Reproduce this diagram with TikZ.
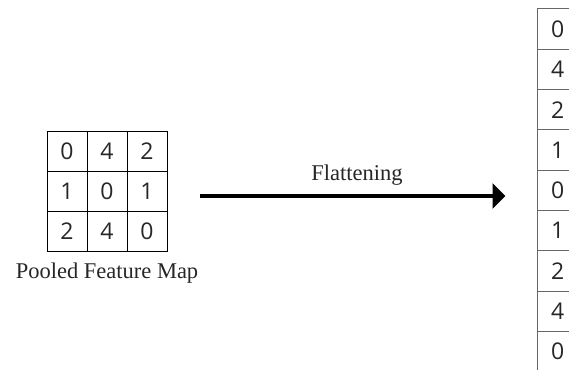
\documentclass[tikz,border=0pt]{standalone}
\usepackage{fontspec}
\setmainfont{Liberation Serif}
\newfontfamily\digitfont{Open Sans}
\usetikzlibrary{arrows.meta}
\begin{document}
\begin{tikzpicture}[x=1pt,y=-1pt,
  cell/.style={draw=black,line width=0.9pt,minimum width=40pt,minimum height=40pt,
    inner sep=0pt,outer sep=0pt,font=\digitfont\fontsize{23}{23}\selectfont,text=black!85},
  vcell/.style={draw=black!60,line width=1pt,minimum width=40pt,minimum height=40.3pt,
    inner sep=0pt,outer sep=0pt,font=\digitfont\fontsize{23}{23}\selectfont,text=black!85},
  caption/.style={font=\fontsize{22.5}{24}\selectfont,text=black!85},
  flow/.style={line width=3.5pt,-{Triangle[length=13pt,width=25pt]}}]
\useasboundingbox (0,0) rectangle (569,369);
% pooled feature map (3x3)
\foreach \v [count=\i from 0] in {0,4,2,1,0,1,2,4,0}{
  \pgfmathtruncatemacro{\r}{int(\i/3)}
  \pgfmathtruncatemacro{\c}{mod(\i,3)}
  \node[cell] (g\i) at (67+40*\c,151+40*\r) {\v};
}
\node[caption] (lbl) at (107,273) {Pooled Feature Map};
% flattened column
\foreach \v [count=\i from 0] in {0,4,2,1,0,1,2,4,0}{
  \node[vcell] (f\i) at (557.7,29.15+40.3*\i) {\v};
}
% arrow
\coordinate (a0) at (200,196);
\coordinate (a1) at (505.5,196);
\draw[flow] (a0) -- (a1);
\node[caption] (flab) at (357,175) {Flattening};
\end{tikzpicture}
\end{document}
